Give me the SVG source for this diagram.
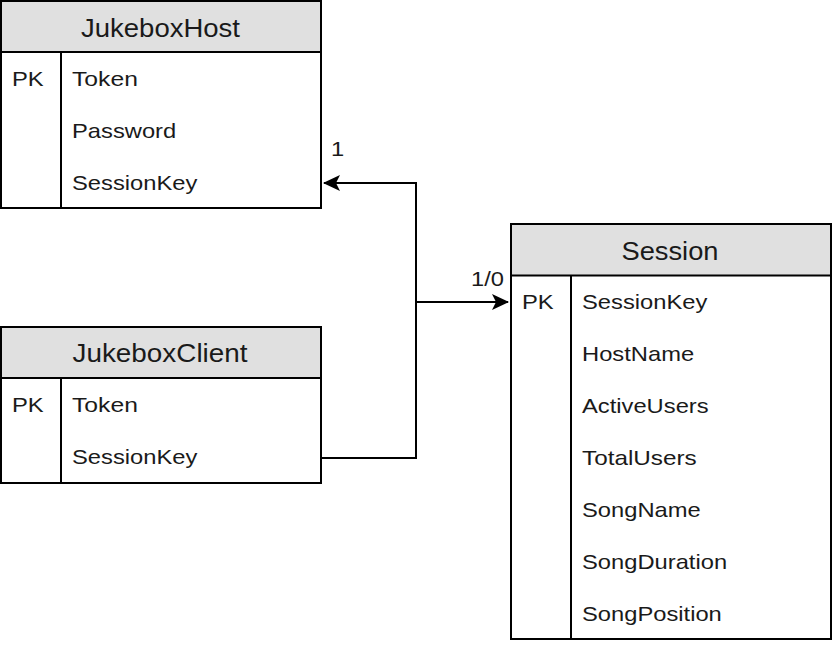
<svg xmlns="http://www.w3.org/2000/svg" width="832" height="646" viewBox="0 0 832 646">
<style>
.box{fill:#ffffff;stroke:#000;stroke-width:2}
.hdr{fill:#e0e0e0;stroke:#000;stroke-width:2}
.ln{stroke:#000;stroke-width:2;fill:none}
.t{font-family:"Liberation Sans",Arial,sans-serif;font-size:25px;fill:#1a1a1a;text-anchor:middle}
.f{font-family:"Liberation Sans",Arial,sans-serif;font-size:21px;fill:#1a1a1a}
.c{stroke:#000;stroke-width:2;fill:none}
.lbl{font-family:"Liberation Sans",Arial,sans-serif;font-size:21px;fill:#1a1a1a}
</style>
<defs>
<marker id="arr" viewBox="0 0 17 16" refX="16" refY="8" markerWidth="17" markerHeight="16" markerUnits="userSpaceOnUse" orient="auto">
<path d="M0,0 L17,8 L0,16 L4,8 Z" fill="#000"/>
</marker>
</defs>
<rect width="832" height="646" fill="#ffffff"/>
<g id="JukeboxHost">
<rect class="box" x="1" y="1" width="320" height="207"/>
<rect class="hdr" x="1" y="1" width="320" height="51"/>
<line class="ln" x1="61" y1="52" x2="61" y2="208"/>
<text class="t" x="160.5" y="37" textLength="159" lengthAdjust="spacingAndGlyphs">JukeboxHost</text>
<text class="f" x="12" y="86" textLength="31.7" lengthAdjust="spacingAndGlyphs">PK</text>
<text class="f" x="72" y="86" textLength="65.9" lengthAdjust="spacingAndGlyphs">Token</text>
<text class="f" x="72" y="138" textLength="104.2" lengthAdjust="spacingAndGlyphs">Password</text>
<text class="f" x="72" y="190" textLength="125.3" lengthAdjust="spacingAndGlyphs">SessionKey</text>
</g>
<g id="JukeboxClient">
<rect class="box" x="1" y="327" width="320" height="156"/>
<rect class="hdr" x="1" y="327" width="320" height="51"/>
<line class="ln" x1="61" y1="378" x2="61" y2="483"/>
<text class="t" x="160" y="362" textLength="175" lengthAdjust="spacingAndGlyphs">JukeboxClient</text>
<text class="f" x="12" y="412" textLength="31.7" lengthAdjust="spacingAndGlyphs">PK</text>
<text class="f" x="72" y="412" textLength="65.9" lengthAdjust="spacingAndGlyphs">Token</text>
<text class="f" x="72" y="464" textLength="125.3" lengthAdjust="spacingAndGlyphs">SessionKey</text>
</g>
<g id="Session">
<rect class="box" x="511" y="224" width="320" height="415"/>
<rect class="hdr" x="511" y="224" width="320" height="51.5"/>
<line class="ln" x1="571" y1="275.5" x2="571" y2="639"/>
<text class="t" x="670" y="260" textLength="97" lengthAdjust="spacingAndGlyphs">Session</text>
<text class="f" x="522" y="309" textLength="31.7" lengthAdjust="spacingAndGlyphs">PK</text>
<text class="f" x="582" y="309" textLength="125.3" lengthAdjust="spacingAndGlyphs">SessionKey</text>
<text class="f" x="582" y="361" textLength="112.1" lengthAdjust="spacingAndGlyphs">HostName</text>
<text class="f" x="582" y="413" textLength="126.6" lengthAdjust="spacingAndGlyphs">ActiveUsers</text>
<text class="f" x="582" y="465" textLength="114.7" lengthAdjust="spacingAndGlyphs">TotalUsers</text>
<text class="f" x="582" y="517" textLength="118.7" lengthAdjust="spacingAndGlyphs">SongName</text>
<text class="f" x="582" y="569" textLength="145.1" lengthAdjust="spacingAndGlyphs">SongDuration</text>
<text class="f" x="582" y="621" textLength="139.8" lengthAdjust="spacingAndGlyphs">SongPosition</text>
</g>
<g id="connectors">
<path class="c" d="M321,458 L416,458 L416,183 L324,183" marker-end="url(#arr)"/>
<path class="c" d="M416,302 L508,302" marker-end="url(#arr)"/>
<text class="lbl" x="331" y="156" textLength="13.2" lengthAdjust="spacingAndGlyphs">1</text>
<text class="lbl" x="471" y="286" textLength="33" lengthAdjust="spacingAndGlyphs">1/0</text>
</g>
</svg>
